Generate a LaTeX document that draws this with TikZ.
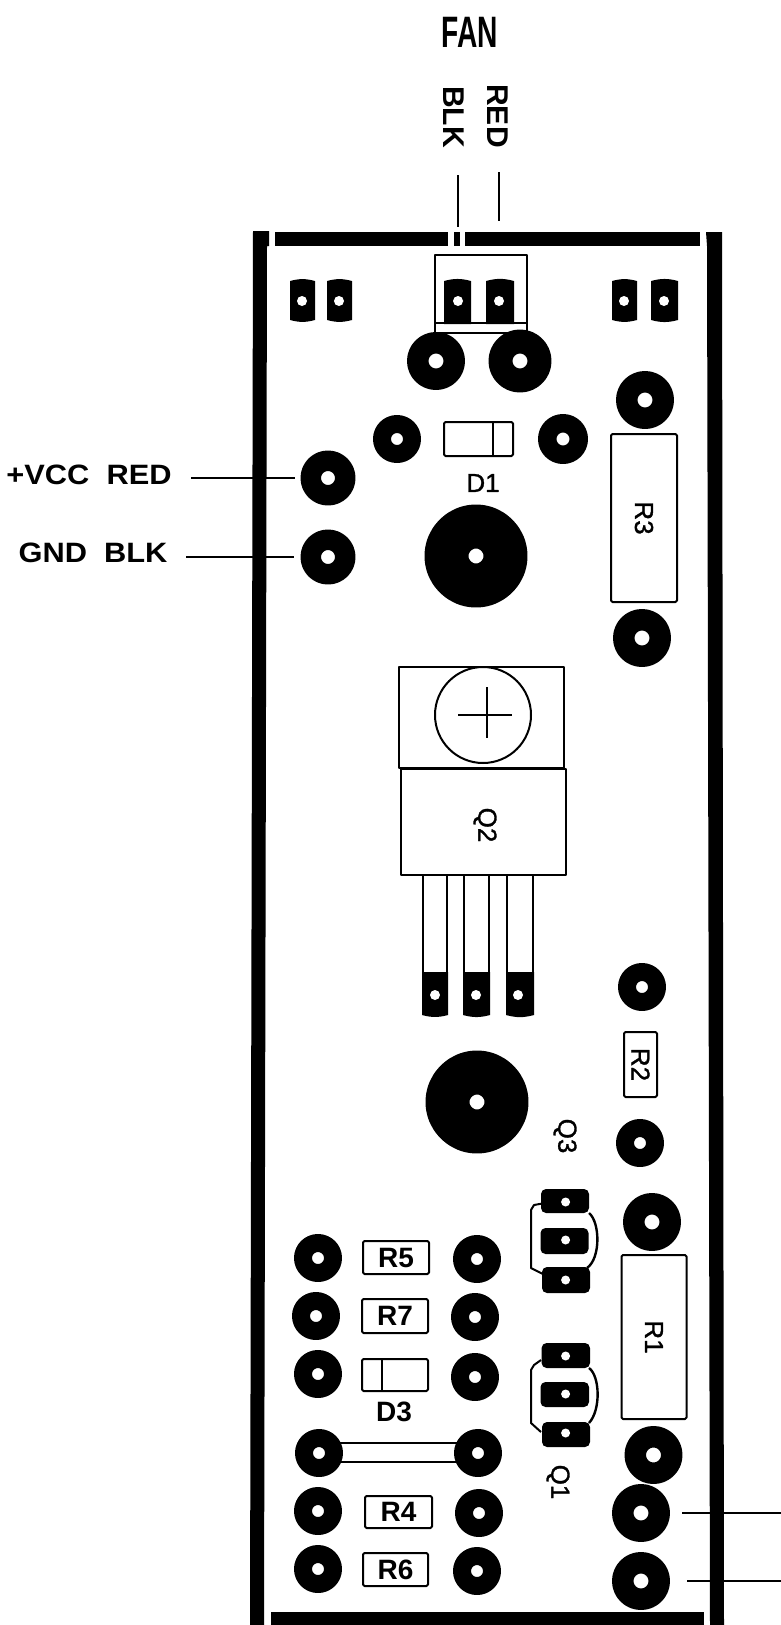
\documentclass[tikz,border=0pt]{standalone}
\usepackage{fontspec}
\setmainfont{Liberation Sans}
\newfontfamily\partfont[FakeBold=1.2]{Liberation Sans}
\begin{document}
\begin{tikzpicture}[x=1pt,y=-1pt,join=round,
  padS/.style={circle,draw=black,fill=white,inner sep=0pt,minimum size=30pt,line width=18pt},
  padM/.style={circle,draw=black,fill=white,inner sep=0pt,minimum size=36.5pt,line width=21.5pt},
  padL/.style={circle,draw=black,fill=white,inner sep=0pt,minimum size=59pt,line width=44pt},
  hole/.style={circle,fill=white,inner sep=0pt,minimum size=10pt},
  wire/.style={line width=2pt},
  outline/.style={line width=2pt},
  partbox/.style={draw=black,line width=2pt,rounded corners=1.5pt,inner sep=0pt},
  pinlabel/.style={inner sep=0pt,font=\fontsize{28}{30}\selectfont\bfseries,xscale=1.1,transform shape},
  fanlabel/.style={inner sep=0pt,font=\fontsize{30}{32}\selectfont\bfseries,rotate=-90},
  partlabel/.style={inner sep=0pt,font=\fontsize{26}{28}\partfont},
  boldlabel/.style={inner sep=0pt,font=\fontsize{28}{30}\selectfont\bfseries}]
\useasboundingbox (0,0) rectangle (781,1625);
\fill[white] (0,0) rectangle (781,1625);

\fill (253,231)--(269,231)--(269,246)--(267,246)--(264,1625)--(250,1625)--cycle;
\fill (706,232)--(722,232)--(724,1625)--(710,1625)--(707,246)--cycle;
\fill (275,232) rectangle (448,246);
\fill (454,232) rectangle (460,246);
\fill (465,232) rectangle (700,246);
\fill (271,1612) rectangle (704,1625);

\node[inner sep=0pt,font=\fontsize{44}{46}\selectfont\bfseries,xscale=.64,transform shape] (fan) at (470,32) {FAN};
\node[fanlabel] (blklabel) at (454,117) {BLK};
\node[fanlabel] (redlabel) at (498,116) {RED};
\node[pinlabel] (vcclabel) at (89,475) {+VCC\ \ RED};
\node[pinlabel] (gndlabel) at (93,553) {GND\ \ BLK};

\draw[outline] (435,255) rectangle (527,333);
\draw[line width=2.4pt] (435,323) -- (527,323);
\fill (444,281) to[bend left=15] (471,281) -- (471,324) -- (444,324) -- cycle;
\fill (486,281) to[bend left=15] (514,281) -- (514,324) -- (486,324) -- cycle;
\fill (290,281) to[bend left=15] (315,281) -- (315,320) to[bend left=15] (290,320) -- cycle;
\fill (327,281) to[bend left=15] (352,281) -- (352,320) to[bend left=15] (327,320) -- cycle;
\fill (612,281) to[bend left=15] (637,281) -- (637,320) to[bend left=15] (612,320) -- cycle;
\fill (651,281) to[bend left=15] (678,281) -- (678,320) to[bend left=15] (651,320) -- cycle;
\node[hole] (fanblk) at (458,301) {};
\node[hole] (fanred) at (499,301) {};
\node[hole] (slota) at (302,301) {};
\node[hole] (slotb) at (339,301) {};
\node[hole] (slotc) at (624,301) {};
\node[hole] (slotd) at (664,301) {};

\node[padM] (padfana) at (436,361) {};
\node[padM,minimum size=39pt,line width=24pt] (padfanb) at (520,361) {};
\node[padM] (padrthreea) at (645,400) {};
\node[padS] (paddonea) at (397,439) {};
\node[padS,minimum size=31.5pt,line width=18.5pt] (paddoneb) at (563,439) {};
\node[padM,minimum size=34.5pt,line width=20.5pt] (padvcc) at (328,478) {};
\node[padM,minimum size=34.5pt,line width=20.5pt] (padgnd) at (328,557) {};
\node[padL] (mounta) at (476,556) {};
\node[padM] (padrthreeb) at (642,638) {};

\node[partbox,minimum width=69pt,minimum height=34pt] (done) at (478.5,439) {};
\draw[outline] ([xshift=14.5pt]done.north) -- ([xshift=14.5pt]done.south);
\node[partlabel] (donelabel) at (483,483) {D1};
\node[partbox,rotate=-90,minimum width=168pt,minimum height=66pt,partlabel,draw=black,line width=2pt] (rthree) at (644,518) {R3};

\fill (422,972) -- (448,972) -- (448,1015) to[bend left=15] (422,1015) -- cycle;
\fill (463,972) -- (490,972) -- (490,1015) to[bend left=15] (463,1015) -- cycle;
\fill (506,972) -- (534,972) -- (534,1015) to[bend left=15] (506,1015) -- cycle;
\draw[outline] (423,875) -- (423,972) (447,875) -- (447,972);
\draw[outline] (464,875) -- (464,972) (489,875) -- (489,972);
\draw[outline] (507,875) -- (507,972) (533,875) -- (533,972);
\node[hole] (leada) at (435,995) {};
\node[hole] (leadb) at (476,995) {};
\node[hole] (leadc) at (518,995) {};
\draw[outline] (399,667) rectangle (564,768);
\draw[outline] (401,769) rectangle (566,875);
\draw[outline] (483,715) circle (48);
\draw[line width=1.4pt] (458,715) -- (512,715);
\draw[line width=1.4pt] (487,687) -- (487,738);
\node[partlabel,rotate=-90] (qtwo) at (485,825) {Q2};

\node[padL] (mountb) at (477,1102) {};
\node[padS] (padrtwoa) at (642,987) {};
\node[partbox,rotate=-90,minimum width=65pt,minimum height=33pt,partlabel,draw=black,line width=2pt] (rtwo) at (640.5,1064.5) {R2};
\node[padS] (padrtwob) at (640,1143) {};
\node[partlabel,rotate=-90] (qthree) at (565,1136) {Q3};
\node[padM] (padrone) at (652,1222) {};

\draw[line width=2.4pt] (589,1213) .. controls (600,1222) and (601,1258) .. (587,1268);
\draw[outline] (545,1203) -- (534,1205) -- (531,1210) -- (531,1268) -- (545,1275);
\fill[rounded corners=5pt] (541,1189) rectangle (589,1213);
\fill[rounded corners=5pt] (540.5,1228) rectangle (588.5,1254);
\fill[rounded corners=5pt] (542,1267) rectangle (590,1293);
\node[hole,minimum size=9pt] (qthreea) at (565.6,1202) {};
\node[hole,minimum size=9pt] (qthreeb) at (565.6,1240) {};
\node[hole,minimum size=9pt] (qthreec) at (565.6,1280) {};

\draw[line width=2.4pt] (589,1368) .. controls (600,1376) and (601,1410) .. (589,1423);
\draw[outline] (541,1360) -- (534,1365) -- (531,1370) -- (531,1423) -- (541,1432);
\fill[rounded corners=5pt] (541.6,1343) rectangle (590,1368);
\fill[rounded corners=5pt] (540.5,1382) rectangle (589,1407);
\fill[rounded corners=5pt] (542,1422) rectangle (590,1447);
\node[hole,minimum size=9pt] (qonea) at (565.6,1356) {};
\node[hole,minimum size=9pt] (qoneb) at (565.6,1394) {};
\node[hole,minimum size=9pt] (qonec) at (565.6,1433) {};
\node[partlabel,rotate=-90] (qone) at (558,1482) {Q1};

\node[partbox,rotate=-90,minimum width=164pt,minimum height=65pt,partlabel,draw=black,line width=2pt] (rone) at (654,1337) {R1};
\node[padM] (padronea) at (653.5,1455) {};
\node[padM] (padouta) at (641,1513) {};
\node[padM] (padoutb) at (641,1581) {};

\draw[line width=2.4pt,fill=white] (330,1443) rectangle (465,1462);
\node[padS] (padra) at (318,1258) {};
\node[padS] (padrb) at (477,1259) {};
\node[padS] (padrc) at (316,1316) {};
\node[padS] (padrd) at (475,1317) {};
\node[padS] (padre) at (318,1374) {};
\node[padS] (padrf) at (475,1377) {};
\node[padS] (padrg) at (319,1453) {};
\node[padS] (padrh) at (478,1453) {};
\node[padS] (padri) at (318,1511) {};
\node[padS] (padrj) at (479,1513) {};
\node[padS] (padrk) at (318,1569) {};
\node[padS] (padrl) at (477,1571) {};

\node[partbox,boldlabel,draw=black,line width=2pt,minimum width=66pt,minimum height=33pt] (rfive) at (396,1257.5) {R5};
\node[partbox,boldlabel,draw=black,line width=2pt,minimum width=66pt,minimum height=34pt] (rseven) at (395,1316) {R7};
\node[partbox,minimum width=66pt,minimum height=32pt] (dthree) at (395,1375) {};
\draw[outline] ([xshift=-13pt]dthree.north) -- ([xshift=-13pt]dthree.south);
\node[boldlabel] (dthreelabel) at (394,1412) {D3};
\node[partbox,boldlabel,draw=black,line width=2pt,minimum width=67pt,minimum height=32pt] (rfour) at (398.5,1512) {R4};
\node[partbox,boldlabel,draw=black,line width=2pt,minimum width=65pt,minimum height=33pt] (rsix) at (395.5,1569.5) {R6};

\coordinate (vccend) at (191,478);
\coordinate (gndend) at (186,557);
\coordinate (blkend) at (458,175);
\coordinate (redend) at (499,172);
\coordinate (outaend) at (781,1513);
\coordinate (outbend) at (781,1581);
\draw[wire,shorten >=6pt] (vccend) -- (padvcc);
\draw[wire,shorten >=7pt] (gndend) -- (padgnd);
\draw[wire,shorten >=69pt] (blkend) -- (fanblk);
\draw[wire,shorten >=75pt] (redend) -- (fanred);
\draw[wire,shorten >=12pt] (outaend) -- (padouta);
\draw[wire,shorten >=17pt] (outbend) -- (padoutb);
\end{tikzpicture}
\end{document}
